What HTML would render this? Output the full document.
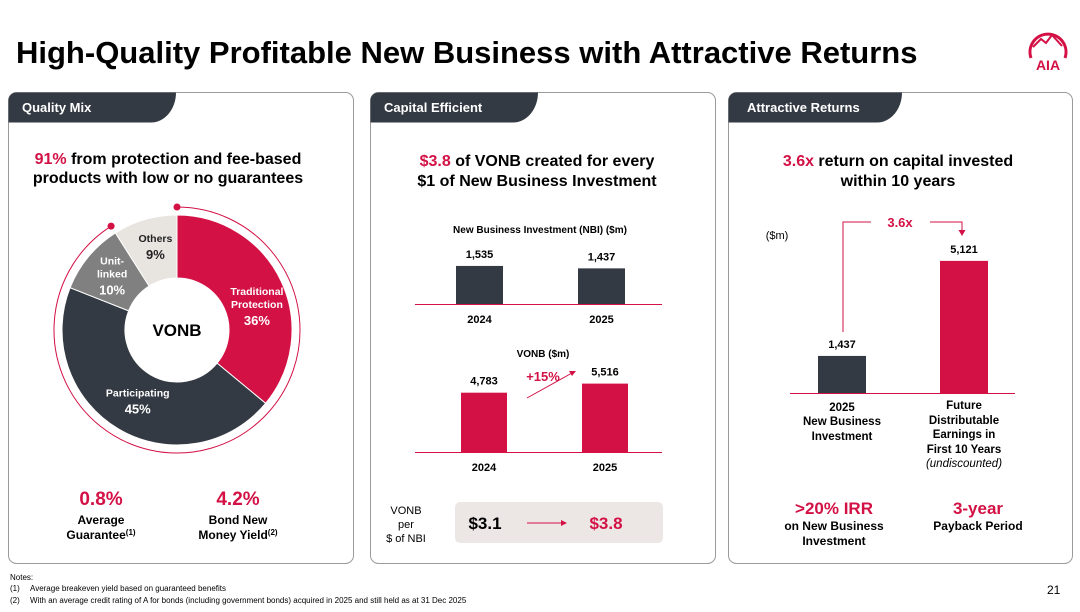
<!DOCTYPE html>
<html><head><meta charset="utf-8"><style>
body{margin:0;background:#fff;width:1080px;height:612px;overflow:hidden;font-family:"Liberation Sans",Arial,sans-serif}
svg{display:block}
text{font-family:"Liberation Sans",Arial,sans-serif}
</style></head><body>
<svg id="s" width="1080" height="612" viewBox="0 0 1080 612">
<text x="16" y="63" font-size="31" font-weight="bold" fill="#000">High-Quality Profitable New Business with Attractive Returns</text>
<g fill="none" stroke="#d31145" stroke-width="3">
<path d="M1031 58 A18 18 0 1 1 1065 58"/>
<path d="M1033 47 l8 -8 l5 4 l6 -8 l10 11" stroke-width="2"/>
<text x="1048" y="70" font-size="14" font-weight="bold" fill="#d31145" stroke="none" text-anchor="middle">AIA</text>
</g>
<g>
<rect x="8.5" y="92.5" width="345" height="471" rx="8" fill="#fff" stroke="#9a9a9a"/>
<path d="M8.5 100 a8 8 0 0 1 8 -7.5 H176 a25 30 0 0 1 -25 30 H8.5 Z" fill="#343a43"/>
<text x="22" y="112" font-size="13" font-weight="bold" fill="#fff">Quality Mix</text>
</g>
<g>
<rect x="370.5" y="92.5" width="345" height="471" rx="8" fill="#fff" stroke="#9a9a9a"/>
<path d="M370.5 100 a8 8 0 0 1 8 -7.5 H538 a25 30 0 0 1 -25 30 H370.5 Z" fill="#343a43"/>
<text x="384" y="112" font-size="13" font-weight="bold" fill="#fff">Capital Efficient</text>
</g>
<g>
<rect x="728.5" y="92.5" width="344" height="471" rx="8" fill="#fff" stroke="#9a9a9a"/>
<path d="M728.5 100 a8 8 0 0 1 8 -7.5 H902 a25 30 0 0 1 -25 30 H728.5 Z" fill="#343a43"/>
<text x="747" y="112" font-size="13" font-weight="bold" fill="#fff">Attractive Returns</text>
</g>
<text x="168" y="164" font-size="16" font-weight="bold" text-anchor="middle"><tspan fill="#d31145">91%</tspan> from protection and fee-based</text>
<text x="168" y="183" font-size="16" font-weight="bold" text-anchor="middle">products with low or no guarantees</text>
<g id="donut"></g>
<text x="101" y="505" font-size="19" font-weight="bold" fill="#d31145" text-anchor="middle">0.8%</text>
<text x="101" y="524" font-size="12" font-weight="bold" text-anchor="middle">Average</text>
<text x="101" y="539" font-size="12" font-weight="bold" text-anchor="middle">Guarantee<tspan font-size="8" dy="-4">(1)</tspan></text>
<text x="238" y="505" font-size="19" font-weight="bold" fill="#d31145" text-anchor="middle">4.2%</text>
<text x="238" y="524" font-size="12" font-weight="bold" text-anchor="middle">Bond New</text>
<text x="238" y="539" font-size="12" font-weight="bold" text-anchor="middle">Money Yield<tspan font-size="8" dy="-4">(2)</tspan></text>
<text x="537" y="166" font-size="16" font-weight="bold" text-anchor="middle"><tspan fill="#d31145">$3.8</tspan> of VONB created for every</text>
<text x="537" y="186" font-size="16" font-weight="bold" text-anchor="middle">$1 of New Business Investment</text>
<text x="540" y="233" font-size="10" font-weight="bold" text-anchor="middle">New Business Investment (NBI) ($m)</text>
<g id="nbi"></g>
<text x="543" y="357" font-size="10" font-weight="bold" text-anchor="middle">VONB ($m)</text>
<g id="vonb"></g>
<text x="543" y="381" font-size="13" font-weight="bold" fill="#d31145" text-anchor="middle">+15%</text>
<line x1="527" y1="398" x2="572" y2="373" stroke="#d31145"/>
<path d="M576 371 l-7 0 l3 5 Z" fill="#d31145"/>
<text x="406" y="514" font-size="11" text-anchor="middle">VONB</text>
<text x="406" y="528" font-size="11" text-anchor="middle">per</text>
<text x="406" y="542" font-size="11" text-anchor="middle">$ of NBI</text>
<rect x="455" y="502" width="208" height="41" rx="5" fill="#ece7e5"/>
<text x="485" y="529" font-size="17" font-weight="bold" text-anchor="middle">$3.1</text>
<line x1="527" y1="523" x2="562" y2="523" stroke="#d31145"/>
<path d="M567 523 l-6 -3 v6 Z" fill="#d31145"/>
<text x="606" y="529" font-size="17" font-weight="bold" fill="#d31145" text-anchor="middle">$3.8</text>
<text x="898" y="166" font-size="16" font-weight="bold" text-anchor="middle"><tspan fill="#d31145">3.6x</tspan> return on capital invested</text>
<text x="898" y="186" font-size="16" font-weight="bold" text-anchor="middle">within 10 years</text>
<text x="777" y="239" font-size="11" text-anchor="middle">($m)</text>
<g id="ret"></g>
<path d="M843 332 V222 H871 M930 222 H962 V230" fill="none" stroke="#d31145"/>
<path d="M962 236 l-3.5 -6 h7 Z" fill="#d31145"/>
<text x="900" y="227" font-size="13" font-weight="bold" fill="#d31145" text-anchor="middle">3.6x</text>
<g font-size="11.5" font-weight="bold" text-anchor="middle">
<text x="842" y="411">2025</text><text x="842" y="425">New Business</text><text x="842" y="440">Investment</text>
<text x="964" y="409">Future</text><text x="964" y="424">Distributable</text><text x="964" y="438">Earnings in</text><text x="964" y="453">First 10 Years</text>
<text x="964" y="467" font-weight="normal" font-style="italic">(undiscounted)</text>
</g>
<text x="834" y="514" font-size="17" font-weight="bold" fill="#d31145" text-anchor="middle">&gt;20% IRR</text>
<text x="834" y="530" font-size="12" font-weight="bold" text-anchor="middle">on New Business</text>
<text x="834" y="545" font-size="12" font-weight="bold" text-anchor="middle">Investment</text>
<text x="978" y="514" font-size="17" font-weight="bold" fill="#d31145" text-anchor="middle">3-year</text>
<text x="978" y="530" font-size="12" font-weight="bold" text-anchor="middle">Payback Period</text>
<g font-size="8" fill="#000">
<text x="10" y="580">Notes:</text>
<text x="10" y="591">(1)</text><text x="30" y="591">Average breakeven yield based on guaranteed benefits</text>
<text x="10" y="603">(2)</text><text x="30" y="603">With an average credit rating of A for bonds (including government bonds) acquired in 2025 and still held as at 31 Dec 2025</text>
</g>
<text x="1047" y="594" font-size="12">21</text>
</svg>
<script>
const NS="http://www.w3.org/2000/svg";
function mk(p,t,a){const e=document.createElementNS(NS,t);for(const k in a)e.setAttribute(k,a[k]);p.appendChild(e);return e;}
const mixLabels=[["Traditional","Protection"],["Participating"],["Unit-","linked"],["Others"]];
const mixValues=[36,45,10,9];
const mixColors=["#d31145","#343a43","#808080","#e8e4e0"];
const labelOff=[[3,14],[4,0],[6,6],[3,3]];
const cx=177,cy=330,R=115,r=52;
const g=document.getElementById('donut');
const pt=(a,rad)=>[cx+rad*Math.sin(a),cy-rad*Math.cos(a)];
let acc=0;const tot=mixValues.reduce((a,b)=>a+b,0);
mixValues.forEach((v,i)=>{
 const a0=acc/tot*2*Math.PI,a1=(acc+v)/tot*2*Math.PI;acc+=v;
 const lg=(a1-a0)>Math.PI?1:0;
 const [x0,y0]=pt(a0,R),[x1,y1]=pt(a1,R),[x2,y2]=pt(a1,r),[x3,y3]=pt(a0,r);
 const p=mk(g,'path',{d:`M${x0} ${y0}A${R} ${R} 0 ${lg} 1 ${x1} ${y1}L${x2} ${y2}A${r} ${r} 0 ${lg} 0 ${x3} ${y3}Z`,fill:mixColors[i],stroke:'#fff','stroke-width':1});
 
 
 const am=(a0+a1)/2;let [lx,ly]=pt(am,i==3?88:i==2?92:85);
 lx+=labelOff[i][0];ly+=labelOff[i][1];
 const lines=mixLabels[i];const col=i==3?'#222':'#fff';
 const n=lines.length;
 lines.forEach((l,j)=>{const t=mk(g,'text',{x:lx,y:ly-(n*13)/2+j*13,'font-size':10.5,'font-weight':'bold',fill:col,'text-anchor':'middle'});t.textContent=l;});
 const tv=mk(g,'text',{x:lx,y:ly-(n*13)/2+n*13+4,'font-size':13,'font-weight':'bold',fill:col,'text-anchor':'middle'});tv.textContent=v+'%';
});
mk(g,'circle',{cx,cy,r:r-1,fill:'#fff'});
const c=mk(g,'text',{x:cx,y:cy+6,'font-size':17,'font-weight':'bold','text-anchor':'middle'});c.textContent='VONB';
const RR=123,ringEnd=0.91;
const [rx0,ry0]=pt(0,RR),[rx1,ry1]=pt(ringEnd*2*Math.PI,RR);
mk(g,'path',{d:`M${rx0} ${ry0}A${RR} ${RR} 0 1 1 ${rx1} ${ry1}`,fill:'none',stroke:'#d31145','stroke-width':1});
mk(g,'circle',{cx:rx0,cy:ry0,r:3.5,fill:'#d31145'});
mk(g,'circle',{cx:rx1,cy:ry1,r:3.5,fill:'#d31145'});
const nbiYears=["2024","2025"];const nbiValues=[1535,1437];
const vonbYears=["2024","2025"];const vonbValues=[4783,5516];
const retCats=["nbi","fde"];const retValues=[1437,5121];
function bars(id,cats,vals,base,scale,xs,w,colors,axis,showCats){
 const G=document.getElementById(id);
 const y=v=>base-v*scale;
 if(axis)mk(G,'line',{x1:axis[0],x2:axis[1],y1:base+0.5,y2:base+0.5,stroke:'#d31145','stroke-width':1});
 vals.forEach((v,i)=>{
  const b=mk(G,'rect',{x:xs[i],y:y(v),width:w,height:base-y(v),fill:colors[i]});
  
  
  const t=mk(G,'text',{x:xs[i]+w/2,y:y(v)-8,'font-size':11,'font-weight':'bold','text-anchor':'middle'});t.textContent=v.toLocaleString('en-US');
  if(showCats){const c=mk(G,'text',{x:xs[i]+w/2,y:base+19,'font-size':11,'font-weight':'bold','text-anchor':'middle'});c.textContent=cats[i];}
 });
}
bars('nbi',nbiYears,nbiValues,304,0.0248,[456,578],47,['#343a43','#343a43'],[415,662],true);
bars('vonb',vonbYears,vonbValues,452,0.0124,[461,582],46,['#d31145','#d31145'],[415,662],true);
bars('ret',retCats,retValues,393,0.0258,[818,940],48,['#343a43','#d31145'],[790,1015],false);
</script>
</body></html>
